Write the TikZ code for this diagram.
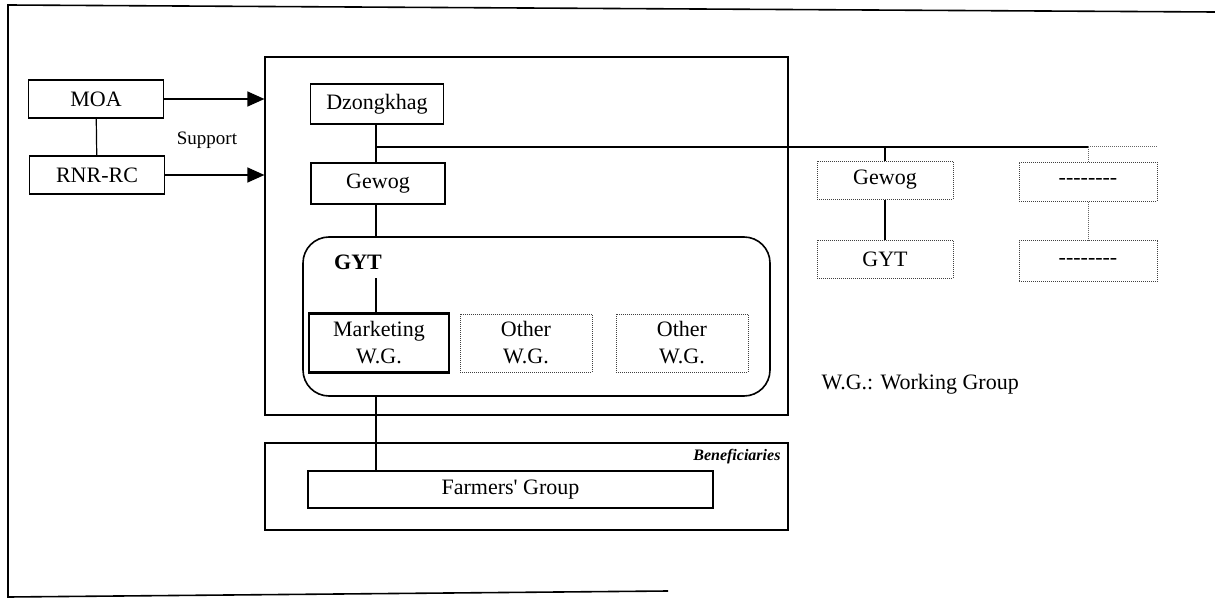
\documentclass[tikz,border=0pt]{standalone}
\usepackage{fontspec}
\setmainfont{Liberation Serif}[Ligatures=TeXOff]
\usetikzlibrary{arrows.meta}
\begin{document}
\begin{tikzpicture}[x=1pt,y=-1pt,
  txt/.style={font=\fontsize{22}{27}\selectfont, align=center},
  box/.style={txt, draw, line width=1.2pt, inner sep=0pt},
  thickbox/.style={box, line width=2.8pt},
  dotbox/.style={box, draw=black!75, line width=1pt, densely dotted},
  frame/.style={draw, line width=1.2pt},
  conn/.style={line width=1.2pt},
  dotconn/.style={draw=black!60, line width=1pt, densely dotted},
  arr/.style={conn, -{Triangle[length=17pt,width=15pt]}},
]
\useasboundingbox (0,0) rectangle (1215,599);

% outer frame (open on the right, as in the scan)
\coordinate (fTL) at (8,5);
\coordinate (fTR) at (1215,12);
\coordinate (fBL) at (8,597);
\coordinate (fBR) at (668,591);
\draw[line width=1.6pt] (fTR) -- (fTL) -- (fBL) -- (fBR);

% panels
\node[frame, minimum width=523pt, minimum height=358pt] (panel) at (526.5,236) {};
\node[frame, minimum width=523pt, minimum height=87pt] (benef) at (526.5,486.5) {};
\draw[line width=1.6pt, rounded corners=26pt] (303,237) rectangle (770,396);
\coordinate (gytTop) at (376,237);
\coordinate (gytBot) at (376,396);

% left side
\node[box, minimum width=135pt, minimum height=38pt] (moa) at (96,99) {MOA};
\node[box, minimum width=135pt, minimum height=38pt] (rnr) at (97,175) {RNR-RC};
\node[txt, font=\fontsize{19}{22}\selectfont] (support) at (207,140) {Support};

% Gewog panel
\node[box, minimum width=133pt, minimum height=40pt] (dz) at (377,104) {Dzongkhag};
\node[thickbox, minimum width=134pt, minimum height=41pt] (gew) at (378,183.5) {Gewog};
\node[txt, font=\fontsize{22}{24}\selectfont\bfseries] (gyt) at (358,262) {GYT};
\coordinate (gytLine) at (376,278);
\node[thickbox, minimum width=140pt, minimum height=59pt] (mkt) at (379,343) {Marketing\\W.G.};
\node[dotbox, minimum width=132pt, minimum height=58pt] (oth1) at (526,343) {Other\\W.G.};
\node[dotbox, minimum width=132pt, minimum height=58pt] (oth2) at (682,343) {Other\\W.G.};

% beneficiaries
\node[thickbox, minimum width=405pt, minimum height=37pt] (farm) at (510.5,489.5) {Farmers' Group};
\node[txt, font=\fontsize{16}{18}\selectfont\bfseries\itshape, anchor=east] (bentxt) at (784,457) {Beneficiaries};

% right side
\node[dotbox, minimum width=136pt, minimum height=38pt] (rgew) at (885,180) {Gewog};
\node[dotbox, minimum width=136pt, minimum height=38pt] (rgyt) at (885,259) {GYT};
\node[dotbox, minimum width=138pt, minimum height=39pt] (rd1) at (1088,181.5) {--------};
\node[dotbox, minimum width=138pt, minimum height=41pt] (rd2) at (1088,261) {--------};
\node[txt, anchor=west] (wg) at (818,384) {W.G.: Working Group};

% connectors
\draw[conn] (moa) -- (rnr);
\draw[arr] (moa.east) -- (moa.east -| panel.west);
\draw[arr] (rnr.east) -- (rnr.east -| panel.west);

\coordinate (br) at (376,147);
\coordinate (brG) at (885,147);
\coordinate (brD) at (1088,147);
\coordinate (brEnd) at (1158,147);
\draw[conn] (dz.south -| br) -- (gew.north -| br);
\draw[conn] (br) -- (brD);
\draw[dotconn] (brD) -- (brEnd);
\draw[conn] (brG) -- (rgew.north);
\draw[conn] (rgew) -- (rgyt);
\draw[dotconn] (brD) -- (rd1.north);
\draw[dotconn] (rd1) -- (rd2);

\draw[conn] (gew.south -| br) -- (gytTop);
\draw[conn] (gytLine) -- (mkt.north -| gytLine);
\draw[conn] (gytBot) -- (farm.north -| gytBot);
\end{tikzpicture}
\end{document}
